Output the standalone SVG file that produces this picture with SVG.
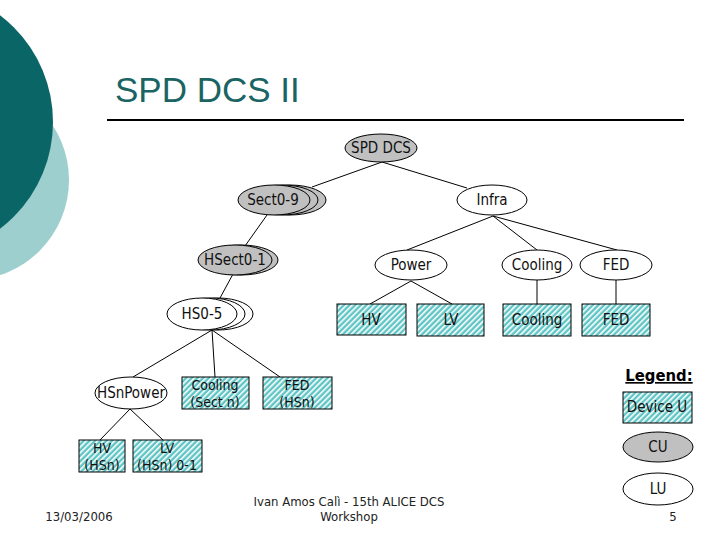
<svg xmlns="http://www.w3.org/2000/svg" width="720" height="540" viewBox="0 0 720 540">
<defs>
<pattern id="hatch" patternUnits="userSpaceOnUse" width="4" height="4" patternTransform="rotate(45)">
<rect width="4" height="4" fill="#5EC4C4"/>
<rect x="0" y="0" width="1.6" height="4" fill="#FFFFFF"/>
</pattern>
<style>
.t{font-family:"DejaVu Sans Condensed","DejaVu Sans",sans-serif;font-size:15px;fill:#111;text-anchor:middle}
.t2{font-family:"DejaVu Sans Condensed","DejaVu Sans",sans-serif;font-size:14px;fill:#111;text-anchor:middle}
.f{font-family:"DejaVu Sans Condensed","DejaVu Sans",sans-serif;font-size:13px;fill:#222;text-anchor:middle}
.cu{fill:#C0C0C0;stroke:#000;stroke-width:1}
.lu{fill:#FFFFFF;stroke:#000;stroke-width:1}
.du{fill:url(#hatch);stroke:#000;stroke-width:1}
.c{stroke:#000;stroke-width:1;fill:none}
</style>
</defs>
<rect width="720" height="540" fill="#FFFFFF"/>
<g id="background">
<circle cx="-31" cy="180" r="100" fill="#9ECFCF"/>
<circle cx="-81" cy="122" r="134" fill="#0A6666"/>
</g>
<g id="title">
<text x="115" y="102" font-family="Liberation Sans,Arial,sans-serif" font-size="35" fill="#1A6464">SPD DCS II</text>
<line x1="107" y1="120" x2="684" y2="120" stroke="#000" stroke-width="2"/>
</g>
<g id="connectors">
<line class="c" x1="382" y1="162" x2="312" y2="187"/>
<line class="c" x1="382" y1="162" x2="467" y2="188"/>
<line class="c" x1="267" y1="215" x2="245" y2="246"/>
<line class="c" x1="233" y1="274" x2="220" y2="298"/>
<line class="c" x1="212" y1="330" x2="133" y2="377"/>
<line class="c" x1="212" y1="330" x2="215" y2="377"/>
<line class="c" x1="212" y1="330" x2="280" y2="377"/>
<line class="c" x1="130" y1="409" x2="100" y2="440"/>
<line class="c" x1="130" y1="409" x2="163" y2="440"/>
<line class="c" x1="493" y1="216" x2="407" y2="250"/>
<line class="c" x1="493" y1="216" x2="537" y2="250"/>
<line class="c" x1="493" y1="216" x2="617" y2="250"/>
<line class="c" x1="411" y1="281" x2="370" y2="304"/>
<line class="c" x1="411" y1="281" x2="452" y2="304"/>
<line class="c" x1="537" y1="280" x2="537" y2="304"/>
<line class="c" x1="616" y1="280" x2="616" y2="304"/>
</g>
<g id="spd-dcs">
<ellipse class="cu" cx="381" cy="148" rx="36" ry="14"/>
<text class="t" x="381" y="153">SPD DCS</text>
</g>
<g id="sect0-9">
<ellipse class="cu" cx="290" cy="200" rx="36" ry="15"/>
<ellipse class="cu" cx="282" cy="200" rx="36" ry="15"/>
<ellipse class="cu" cx="274" cy="200" rx="36" ry="15"/>
<text class="t" x="273" y="205">Sect0-9</text>
</g>
<g id="infra">
<ellipse class="lu" cx="492" cy="200" rx="35" ry="15"/>
<text class="t" x="492" y="205">Infra</text>
</g>
<g id="hsect0-1">
<ellipse class="cu" cx="241" cy="260" rx="37" ry="15"/>
<ellipse class="cu" cx="235" cy="260" rx="37" ry="15"/>
<text class="t" x="235" y="265">HSect0-1</text>
</g>
<g id="hs0-5">
<ellipse class="lu" cx="218" cy="314" rx="35" ry="16"/>
<ellipse class="lu" cx="210" cy="314" rx="35" ry="16"/>
<ellipse class="lu" cx="202" cy="314" rx="35" ry="16"/>
<text class="t" x="202" y="319">HS0-5</text>
</g>
<g id="hsnpower">
<ellipse class="lu" cx="131" cy="393" rx="36" ry="16"/>
<text class="t" x="131" y="398">HSnPower</text>
</g>
<g id="cooling-sect">
<rect class="du" x="182" y="377" width="67" height="32"/>
<text class="t2" x="215" y="390">Cooling</text>
<text class="t2" x="215" y="406.5">(Sect n)</text>
</g>
<g id="fed-hsn">
<rect class="du" x="263" y="377" width="69" height="32"/>
<text class="t2" x="297" y="390">FED</text>
<text class="t2" x="297" y="406.5">(HSn)</text>
</g>
<g id="hv-hsn">
<rect class="du" x="79" y="440" width="46" height="32"/>
<text class="t2" x="102" y="453">HV</text>
<text class="t2" x="102" y="469.5">(HSn)</text>
</g>
<g id="lv-hsn">
<rect class="du" x="133" y="440" width="69" height="32"/>
<text class="t2" x="167" y="453">LV</text>
<text class="t2" x="167" y="469.5">(HSn) 0-1</text>
</g>
<g id="power">
<ellipse class="lu" cx="411" cy="265" rx="36" ry="15"/>
<text class="t" x="411" y="270">Power</text>
</g>
<g id="cooling">
<ellipse class="lu" cx="537" cy="265" rx="35" ry="15"/>
<text class="t" x="537" y="270">Cooling</text>
</g>
<g id="fed">
<ellipse class="lu" cx="616" cy="265" rx="36" ry="15"/>
<text class="t" x="616" y="270">FED</text>
</g>
<g id="hv">
<rect class="du" x="337" y="304" width="69" height="31"/>
<text class="t" x="371" y="325">HV</text>
</g>
<g id="lv">
<rect class="du" x="417" y="304" width="67" height="32"/>
<text class="t" x="451" y="325">LV</text>
</g>
<g id="cooling-du">
<rect class="du" x="503" y="304" width="68" height="32"/>
<text class="t" x="537" y="325">Cooling</text>
</g>
<g id="fed-du">
<rect class="du" x="582" y="304" width="68" height="32"/>
<text class="t" x="616" y="325">FED</text>
</g>
<g id="legend">
<text x="659" y="381" font-family="DejaVu Sans Condensed,DejaVu Sans,sans-serif" font-size="16.5" font-weight="bold" text-anchor="middle" text-decoration="underline">Legend:</text>
<rect class="du" x="623" y="392" width="69" height="31"/>
<text class="t" x="657" y="412">Device U</text>
<ellipse class="cu" cx="658" cy="447" rx="35" ry="15"/>
<text class="t" x="658" y="452">CU</text>
<ellipse class="lu" cx="658" cy="489" rx="35" ry="16"/>
<text class="t" x="658" y="494">LU</text>
</g>
<g id="footer">
<text class="f" x="79" y="521">13/03/2006</text>
<text class="f" x="349" y="506">Ivan Amos Calì - 15th ALICE DCS</text>
<text class="f" x="349" y="521">Workshop</text>
<text class="f" x="673" y="521">5</text>
</g>
</svg>
